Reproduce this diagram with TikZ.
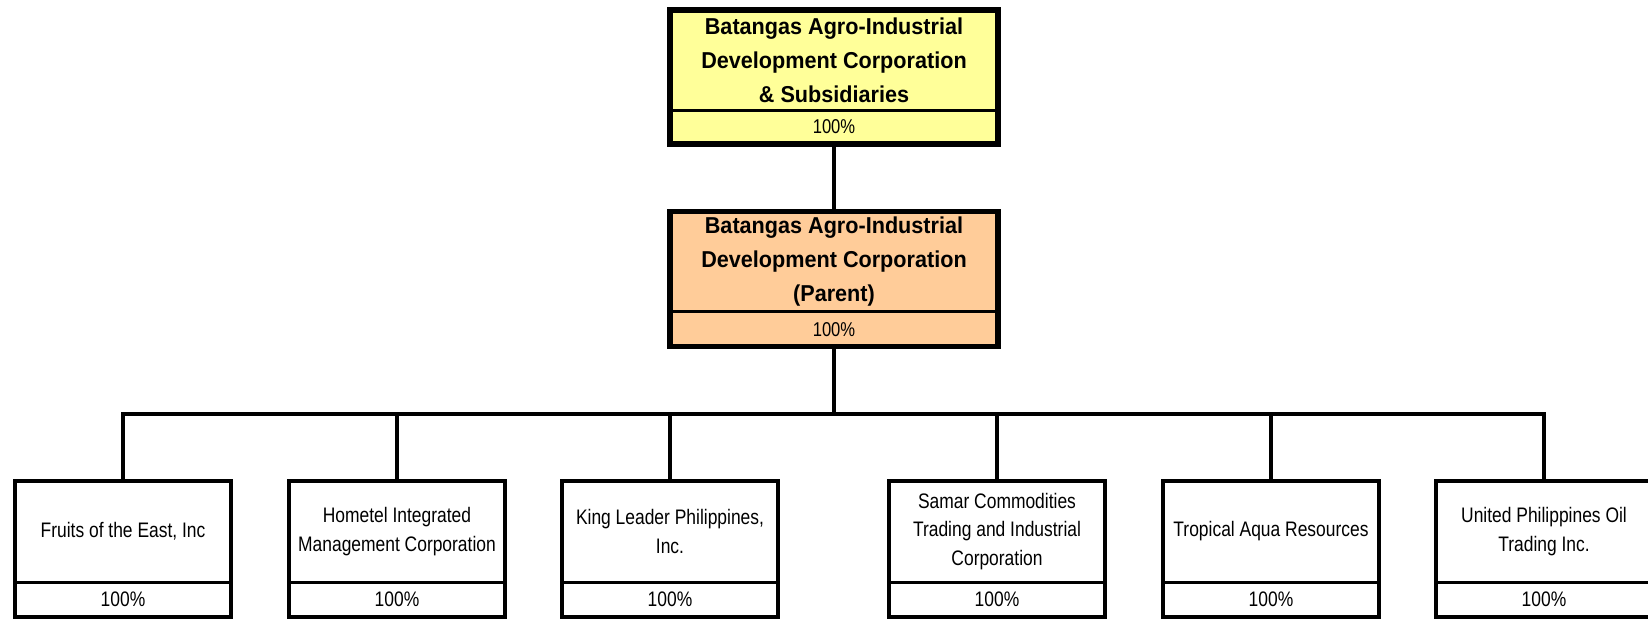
\documentclass[tikz,border=0pt]{standalone}
\usepackage{fontspec}
\setmainfont{Liberation Sans}
\newfontfamily\narrowfont[FakeStretch=0.83]{Liberation Sans}
\newfontfamily\headfont[FakeStretch=0.94]{Liberation Sans}
\definecolor{topyellow}{HTML}{FFFF99}
\definecolor{parentpeach}{HTML}{FFCC99}
\begin{document}
\begin{tikzpicture}[x=1pt,y=-1pt,
  part/.style={rectangle, inner sep=0pt, outer sep=0pt, align=center},
  headname/.style={part, minimum width=328pt, minimum height=100pt, font=\headfont\bfseries\fontsize{23}{34}\selectfont},
  headpct/.style={part, minimum width=328pt, minimum height=34pt, font=\narrowfont\fontsize{20}{24}\selectfont},
  subname/.style={part, minimum width=216pt, minimum height=101pt, fill=white, font=\narrowfont\fontsize{21}{28.5}\selectfont},
  subpct/.style={part, minimum width=216pt, minimum height=35pt, fill=white, font=\narrowfont\fontsize{21}{25}\selectfont},
  heavyframe/.style={draw=black, line width=5.5pt},
  lightframe/.style={draw=black, line width=3.3pt},
  divider/.style={draw=black, line width=3pt},
  link/.style={draw=black, line width=3.5pt},
]
\useasboundingbox (0,0) rectangle (1648,619);

% consolidated box
\node[headname, fill=topyellow] (cons) at (834,60) {Batangas Agro-Industrial\\Development Corporation\\\& Subsidiaries};
\node[headpct, fill=topyellow] (consp) at (834,127) {100\%};
\draw[divider] (cons.south west) -- (cons.south east);
\draw[heavyframe] (cons.north west) rectangle (consp.south east);

% parent box
\node[headname, fill=parentpeach] (par) at (834,261.5) {Batangas Agro-Industrial\\Development Corporation\\(Parent)};
\node[headpct, fill=parentpeach] (parp) at (834,329.5) {100\%};
\draw[divider] (par.south west) -- (par.south east);
\draw[heavyframe] (par.north west) rectangle (parp.south east);

% subsidiaries
\foreach \nm/\x/\txt in {
  s1/123/{Fruits of the East, Inc},
  s2/397/{Hometel Integrated\\Management Corporation},
  s3/670/{King Leader Philippines,\\Inc.},
  s4/997/{Samar Commodities\\Trading and Industrial\\Corporation},
  s5/1271/{Tropical Aqua Resources},
  s6/1544/{United Philippines Oil\\Trading Inc.}}{
  \node[subname] (\nm) at (\x,531.5) {\txt};
  \node[subpct] (\nm p) at (\x,599.5) {100\%};
  \draw[divider] (\nm.south west) -- (\nm.south east);
  \draw[lightframe] (\nm.north west) rectangle (\nm p.south east);
}

% connectors
\coordinate (bus) at (834,414);
\draw[link] (consp.south) -- (par.north);
\draw[link] (parp.south) -- (bus);
\draw[link] (s1.north) -- (s1.north |- bus) -- (s6.north |- bus) -- (s6.north);
\foreach \nm in {s2,s3,s4,s5}{
  \draw[link] (\nm.north) -- (\nm.north |- bus);
}
\end{tikzpicture}
\end{document}
